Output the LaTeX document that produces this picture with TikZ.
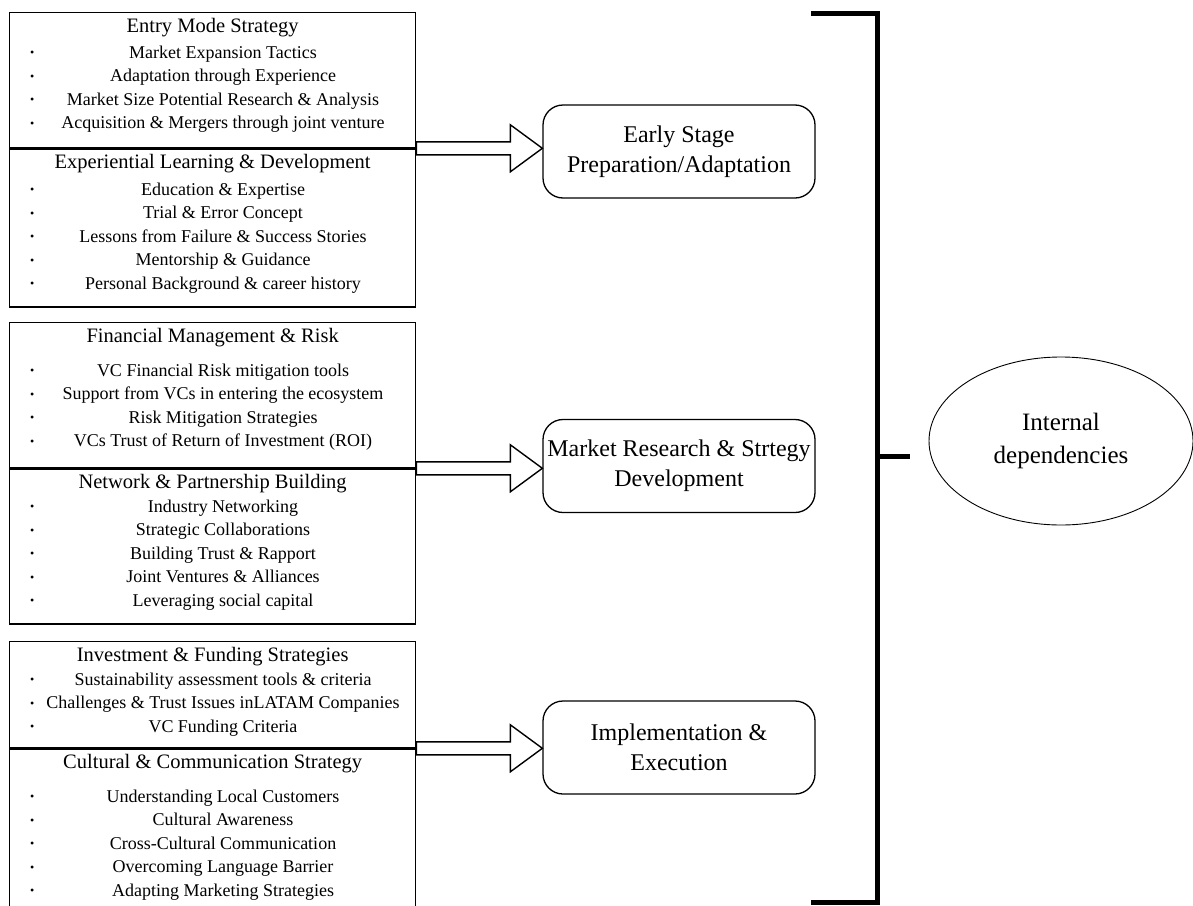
\documentclass[tikz,border=0pt]{standalone}
\usepackage{fontspec}
\setmainfont{Liberation Serif}
\usetikzlibrary{shapes.geometric}
\usetikzlibrary{calc}
\tikzset{
	sect/.style={draw, line width=1.3pt, inner sep=0pt, anchor=north west},
	stage/.style={draw, line width=1.3pt, rounded corners=20pt, minimum width=272pt, minimum height=93pt, inner xsep=2pt, align=center, font=\fontsize{24}{30}\selectfont},
	bigarrow/.style={draw, line width=1.4pt, line join=miter},
	brace/.style={draw, line width=5pt},
}
\newcommand{\hd}[1]{\hbox to \linewidth{\hfil\rule{0pt}{20pt}\fontsize{20.5}{24}\selectfont #1\hfil}}
\newcommand{\bl}[1]{\hbox to \linewidth{\hspace{20.5pt}\raisebox{1.5pt}{\fontsize{12}{12}\selectfont\textbullet}\hfil #1\hfil\hspace{4pt}}}
\newcommand{\sectext}[2]{\parbox[c][#1][t]{406pt}{\fontsize{18}{23.5}\selectfont #2}}
\newcommand{\blockarrow}[2]{%
	\draw[bigarrow] let \p1=(#1), \p2=(#2.west) in
		(\x1,\y1+6.5pt) -- (\x2-32pt,\y1+6.5pt) -- (\x2-32pt,\y1+23.5pt) -- (\x2,\y1)
		-- (\x2-32pt,\y1-23.5pt) -- (\x2-32pt,\y1-6.5pt) -- (\x1,\y1-6.5pt) -- cycle;}

\begin{document}
\begin{tikzpicture}[x=1pt, y=-1pt]
		\useasboundingbox (0,0) rectangle (1193,905);

		% themes, left column
		\node[sect] (entry) at (9,12) {\sectext{135pt}{\hd{Entry Mode Strategy}\vspace{2pt}
			\bl{Market Expansion Tactics}
			\bl{Adaptation through Experience}
			\bl{Market Size Potential Research \& Analysis}
			\bl{Acquisition \& Mergers through joint venture}}};
		\node[sect] (learning) at (entry.south west) {\sectext{158pt}{\hd{Experiential Learning \& Development}\vspace{3pt}
			\bl{Education \& Expertise}
			\bl{Trial \& Error Concept}
			\bl{Lessons from Failure \& Success Stories}
			\bl{Mentorship \& Guidance}
			\bl{Personal Background \& career history}}};

		\node[sect] (finance) at (9,322) {\sectext{145pt}{\hd{Financial Management \& Risk}\vspace{10pt}
			\bl{VC Financial Risk mitigation tools}
			\bl{Support from VCs in entering the ecosystem}
			\bl{Risk Mitigation Strategies}
			\bl{VCs Trust of Return of Investment (ROI)}}};
		\node[sect] (network) at (finance.south west) {\sectext{155pt}{\hd{Network \& Partnership Building}
			\bl{Industry Networking}
			\bl{Strategic Collaborations}
			\bl{Building Trust \& Rapport}
			\bl{Joint Ventures \& Alliances}
			\bl{Leveraging social capital}}};

		\node[sect] (invest) at (9,641) {\sectext{106pt}{\hd{Investment \& Funding Strategies}
			\bl{Sustainability assessment tools \& criteria}
			\bl{Challenges \& Trust Issues inLATAM Companies}
			\bl{VC Funding Criteria}}};
		\node[sect] (culture) at (invest.south west) {\sectext{163pt}{\hd{Cultural \& Communication Strategy}\vspace{10pt}
			\bl{Understanding Local Customers}
			\bl{Cultural Awareness}
			\bl{Cross-Cultural Communication}
			\bl{Overcoming Language Barrier}
			\bl{Adapting Marketing Strategies}}};

		% stages
		\node[stage] (early) at (679,151.5) {Early Stage\\Preparation/Adaptation};
		\node[stage] (market) at (679,466) {Market Research \& Strtegy\\Development};
		\node[stage] (impl) at (679,747.5) {Implementation \&\\Execution};

		\blockarrow{entry.south east}{early}
		\blockarrow{finance.south east}{market}
		\blockarrow{invest.south east}{impl}

		% bracket
		\coordinate (brkend1) at (811,13);
		\coordinate (brktop) at (877,13);
		\coordinate (brkbot) at (877,902);
		\coordinate (brkend2) at (811,902);
		\coordinate (brkmid) at (877,456);
		\draw[brace] (brkend1) -- (brktop) -- (brkbot) -- (brkend2);

		\node[ellipse, draw, line width=0.9pt, minimum width=264pt, minimum height=168pt, align=center, font=\fontsize{25}{33}\selectfont] (deps) at (1061,441) {Internal\\dependencies};
		\draw[brace, shorten >=19pt] (brkmid) -- (brkmid -| deps.west);

	\end{tikzpicture}
\end{document}
